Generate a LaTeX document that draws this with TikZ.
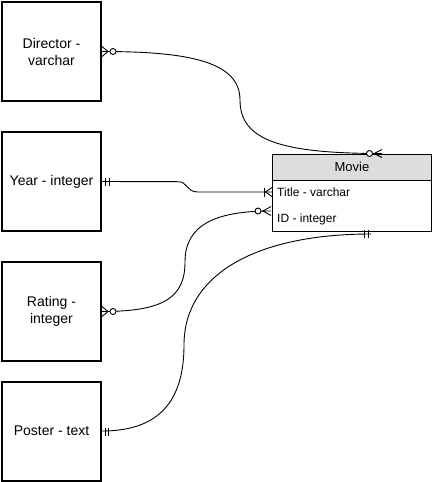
\documentclass[tikz,border=0pt]{standalone}
\usepackage{fontspec}
\setmainfont{Liberation Sans}
\definecolor{hdrgray}{RGB}{221,221,221}
\begin{document}
\begin{tikzpicture}[x=1pt,y=-1pt,
  ent/.style={draw, line width=2pt, minimum width=99pt, minimum height=99pt, inner sep=0pt, align=center, font=\fontsize{14}{17}\selectfont},
  tbl/.style={draw, line width=0.8pt, minimum width=159pt, inner sep=0pt, anchor=north west},
  rowtxt/.style={anchor=base west, inner sep=0pt, font=\fontsize{12}{14}\selectfont},
  conn/.style={line width=0.9pt},
  mk/.style={line width=0.9pt},
  ring/.style={line width=0.9pt, fill=white}]
\useasboundingbox (0,0) rectangle (432,482);

% entities
\node[ent] (dir) at (51.5,51.5) {Director -\\varchar};
\node[ent] (yr)  at (51.5,181.5) {Year - integer};
\node[ent] (rat) at (51.5,311.5) {Rating -\\integer};
\node[ent] (pos) at (51.5,431) {Poster - text};

% Movie table
\node[tbl, fill=hdrgray, minimum height=26.5pt, font=\fontsize{13}{15}\selectfont] (hdr) at (272,153.5) {Movie};
\node[tbl, minimum height=77pt] (movie) at (272,153.5) {};
\node[rowtxt] (ttl) at (277,196.6) {Title - varchar};
\node[rowtxt] (ide) at (277,222.8) {ID - integer};

% connector end points on the table
\coordinate (mtopE) at (382,153.5);
\coordinate (ttlE) at (272,192);
\coordinate (idE) at (271,211);
\coordinate (botE) at (371,234);

% Director -> Movie (top)
\draw[conn] (dir.east) .. controls (190,51.5) and (240,62) .. (240,100)
  .. controls (240,140) and (280,153.5) .. (mtopE);
\draw[mk] (102,46.5) -- (108,51.5) -- (102,56.5);
\draw[ring] (113,51.5) circle (3);
\draw[mk] (382,149.5) -- (374,153.5) -- (382,157.5);
\draw[ring] (369.5,153.5) circle (3);

% Year -> Title
\draw[conn] (yr.east) -- (178,181.7) .. controls (188,181.7) and (186,192) .. (198,192) -- (ttlE);
\draw[mk] (105.5,177.7) -- (105.5,185.7);
\draw[mk] (109,177.7) -- (109,185.7);
\draw[mk] (264,187.5) -- (264,196.5);
\draw[mk] (272,187.5) -- (265.5,192) -- (272,196.5);

% Rating -> ID
\draw[conn] (rat.east) .. controls (163,311.5) and (185,298) .. (185,262)
  .. controls (185,225) and (215,211) .. (idE);
\draw[mk] (102,306.5) -- (108,311.5) -- (102,316.5);
\draw[ring] (113,311.5) circle (3);
\draw[mk] (271,206.5) -- (263,211) -- (271,215.5);
\draw[ring] (258,211) circle (3);

% Poster -> Movie (bottom)
\draw[conn] (pos.east) .. controls (160,431) and (184,400) .. (184,345)
  .. controls (184,275) and (255,234) .. (botE);
\draw[mk] (105,427.5) -- (105,435.5);
\draw[mk] (108.5,427.5) -- (108.5,435.5);
\draw[mk] (364,230) -- (364,238);
\draw[mk] (368,230) -- (368,238);
\end{tikzpicture}
\end{document}
